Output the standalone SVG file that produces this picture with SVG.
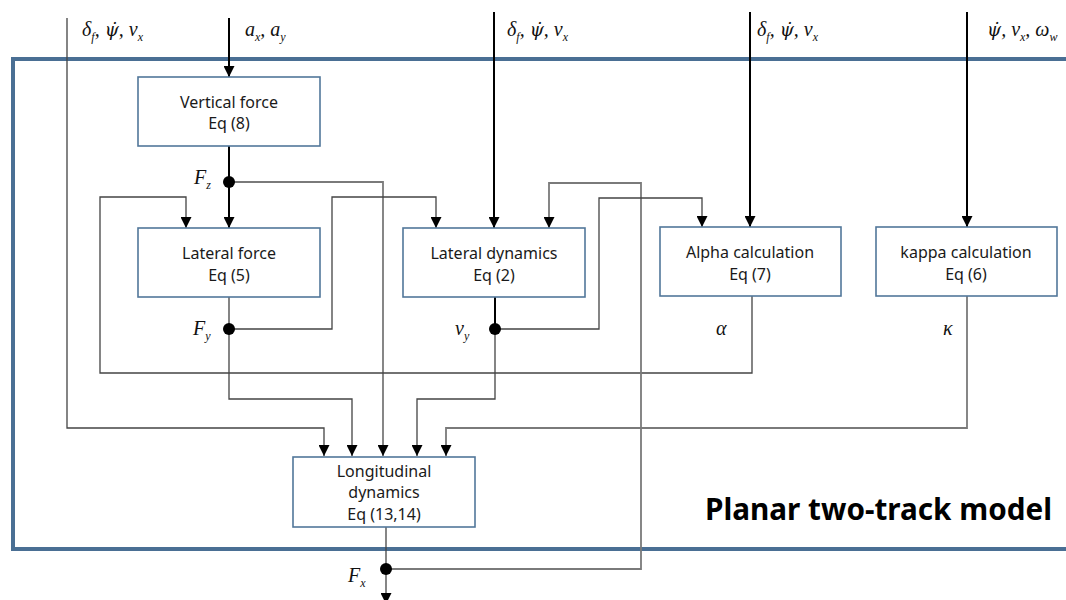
<svg xmlns="http://www.w3.org/2000/svg" width="1066" height="600" viewBox="0 0 1066 600">
<style>
.frame{fill:none;stroke:#4a6f94;stroke-width:4}
.box{fill:#fff;stroke:#52779a;stroke-width:1.6}
.bt{font-family:"Noto Sans","Open Sans",sans-serif;font-size:16px;fill:#1a1a1a;text-anchor:middle}
.thin{fill:none;stroke:#444;stroke-width:1.3}
.gray{fill:none;stroke:#7a7a7a;stroke-width:1.8}
.thick{fill:none;stroke:#000;stroke-width:2}
.m{font-family:"Liberation Serif","DejaVu Serif",serif;font-style:italic;font-size:20px;fill:#111}
.p{font-family:"DejaVu Serif",serif;font-size:18px}
.s{font-size:12px}
.dot{fill:#000}
.title{font-family:"Noto Sans","Open Sans",sans-serif;font-weight:bold;font-size:31px;fill:#000}
</style>
<defs>
<marker id="ah" viewBox="0 0 10 10" refX="10" refY="5" markerWidth="11" markerHeight="11" markerUnits="userSpaceOnUse" orient="auto"><path d="M0,0 L10,5 L0,10 z" fill="#000"/></marker>
</defs>
<rect class="frame" x="13" y="59" width="1100" height="490"/>
<text class="title" x="705" y="520" textLength="347" lengthAdjust="spacingAndGlyphs">Planar two-track model</text>
<g id="connectors">
<polyline class="thin" points="67,18 67,428 324,428 324,456" marker-end="url(#ah)"/>
<polyline class="thick" points="229,18 229,77" marker-end="url(#ah)"/>
<polyline class="thick" points="229,146 229,228" marker-end="url(#ah)"/>
<polyline class="gray" points="229,182 383,182 383,456" marker-end="url(#ah)"/>
<polyline class="thin" points="752,296 752,373 100,373 100,197 186,197 186,228" marker-end="url(#ah)"/>
<polyline class="thin" points="229,297 229,399 352,399 352,456" marker-end="url(#ah)"/>
<polyline class="thin" points="229,329 332,329 332,197 436,197 436,228" marker-end="url(#ah)"/>
<polyline class="thick" points="494,12 494,228" marker-end="url(#ah)"/>
<polyline class="gray" points="386,569 641,569 641,183 549,183 549,228" marker-end="url(#ah)"/>
<polyline class="thick" points="495,297 495,329"/>
<polyline class="thin" points="495,329 495,399 417,399 417,456" marker-end="url(#ah)"/>
<polyline class="thin" points="495,329 599,329 599,198 702,198 702,227" marker-end="url(#ah)"/>
<polyline class="thick" points="750,12 750,227" marker-end="url(#ah)"/>
<polyline class="thick" points="967,12 967,227" marker-end="url(#ah)"/>
<polyline class="gray" points="967,296 967,428 446,428 446,456" marker-end="url(#ah)"/>
<polyline class="thin" points="386,527 386,604" marker-end="url(#ah)"/>
<circle class="dot" cx="229" cy="182" r="6"/>
<circle class="dot" cx="229" cy="329" r="6"/>
<circle class="dot" cx="495" cy="329" r="6"/>
<circle class="dot" cx="386" cy="569" r="6"/>
</g>
<g id="labels">
<text class="m" x="82" y="36">δ<tspan class="s" dy="5">f</tspan><tspan dy="-5">, </tspan><tspan class="p">ψ̇</tspan><tspan>, v</tspan><tspan class="s" dy="5">x</tspan></text>
<text class="m" x="245" y="36">a<tspan class="s" dy="5">x</tspan><tspan dy="-5">, a</tspan><tspan class="s" dy="5">y</tspan></text>
<text class="m" x="507" y="36">δ<tspan class="s" dy="5">f</tspan><tspan dy="-5">, </tspan><tspan class="p">ψ̇</tspan><tspan>, v</tspan><tspan class="s" dy="5">x</tspan></text>
<text class="m" x="757" y="36">δ<tspan class="s" dy="5">f</tspan><tspan dy="-5">, </tspan><tspan class="p">ψ̇</tspan><tspan>, v</tspan><tspan class="s" dy="5">x</tspan></text>
<text class="m" x="987" y="36"><tspan class="p">ψ̇</tspan><tspan>, v</tspan><tspan class="s" dy="5">x</tspan><tspan dy="-5">, ω</tspan><tspan class="s" dy="5">w</tspan></text>
<text class="m" x="194" y="184">F<tspan class="s" dy="5">z</tspan></text>
<text class="m" x="193" y="335">F<tspan class="s" dy="5">y</tspan></text>
<text class="m" x="455" y="335">v<tspan class="s" dy="5">y</tspan></text>
<text class="m" x="716" y="335">α</text>
<text class="m" x="943" y="335">κ</text>
<text class="m" x="348" y="582">F<tspan class="s" dy="5">x</tspan></text>
</g>
<g id="vertical-force">
<rect class="box" x="138" y="77" width="182" height="69"/>
<text class="bt" x="229" y="108">Vertical force</text>
<text class="bt" x="229" y="129">Eq (8)</text>
</g>
<g id="lateral-force">
<rect class="box" x="138" y="228" width="182" height="69"/>
<text class="bt" x="229" y="259">Lateral force</text>
<text class="bt" x="229" y="281">Eq (5)</text>
</g>
<g id="lateral-dynamics">
<rect class="box" x="403" y="228" width="182" height="69"/>
<text class="bt" x="494" y="259">Lateral dynamics</text>
<text class="bt" x="494" y="281">Eq (2)</text>
</g>
<g id="alpha-calculation">
<rect class="box" x="660" y="227" width="181" height="69"/>
<text class="bt" x="750" y="258">Alpha calculation</text>
<text class="bt" x="750" y="280">Eq (7)</text>
</g>
<g id="kappa-calculation">
<rect class="box" x="876" y="227" width="181" height="69"/>
<text class="bt" x="966" y="258">kappa calculation</text>
<text class="bt" x="966" y="280">Eq (6)</text>
</g>
<g id="longitudinal-dynamics">
<rect class="box" x="293" y="457" width="182" height="70"/>
<text class="bt" x="384" y="477">Longitudinal</text>
<text class="bt" x="384" y="498">dynamics</text>
<text class="bt" x="384" y="520">Eq (13,14)</text>
</g>
</svg>
